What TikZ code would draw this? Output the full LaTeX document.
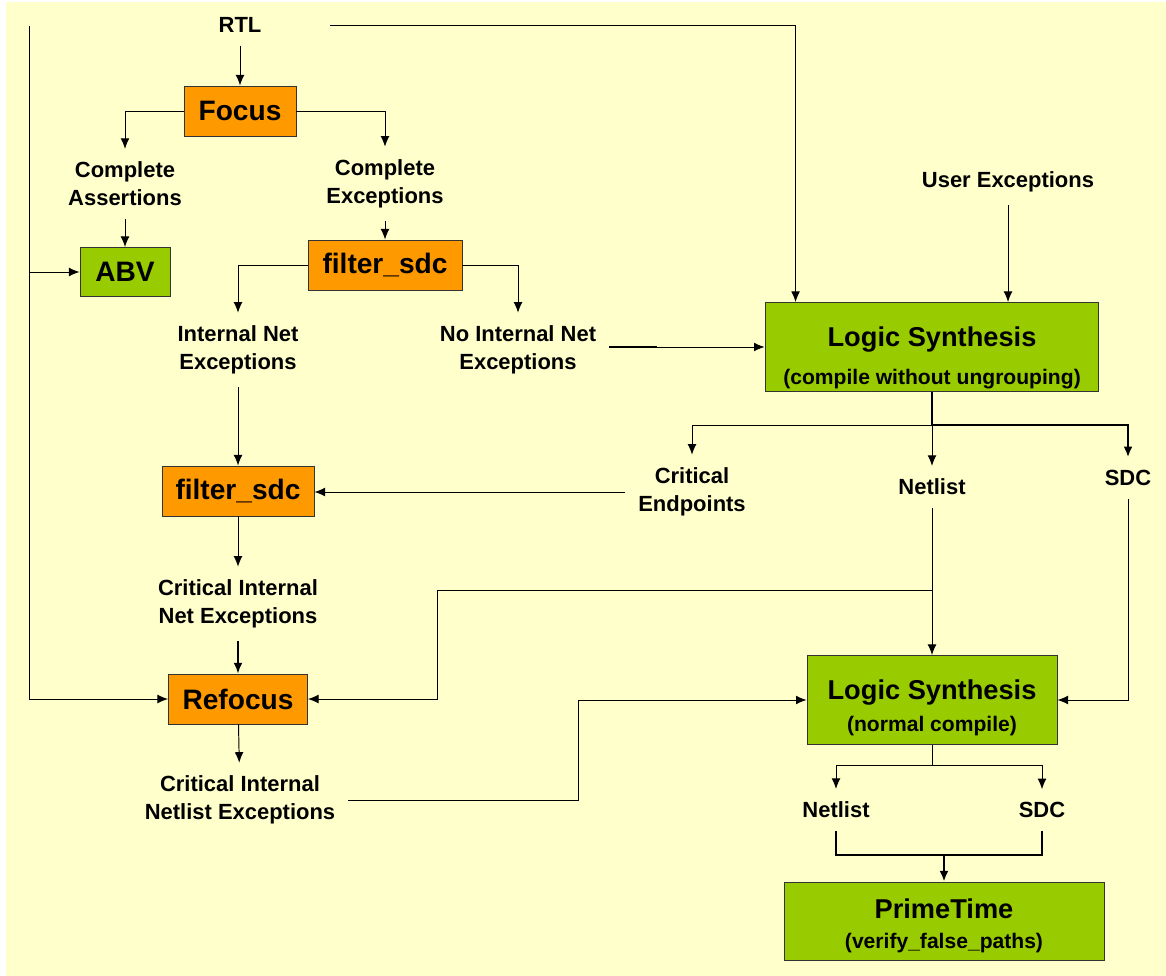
\documentclass[tikz,border=0pt]{standalone}
\usepackage{fontspec}
\setmainfont{Liberation Sans}
\usetikzlibrary{arrows.meta}
\definecolor{bgyellow}{HTML}{FFFFCC}
\definecolor{boxorange}{HTML}{FF9900}
\definecolor{boxgreen}{HTML}{99CC00}
\newcommand\subtxt[1]{{\fontsize{12}{14}\selectfont #1}}
\tikzset{
  lbl/.style={font=\fontsize{12.5}{16}\selectfont\bfseries, align=center, inner sep=0.25cm},
  obox/.style={draw=black!80, fill=boxorange, font=\fontsize{16}{18}\selectfont\bfseries,
    inner sep=0pt, minimum height=1cm},
  gbox/.style={draw=black!80, fill=boxgreen, font=\fontsize{15.5}{18}\selectfont\bfseries,
    align=center, inner sep=0pt},
  thk/.style={line width=1.2pt}
}

\begin{document}
\begin{tikzpicture}[x=0.02cm,y=-0.02cm,line width=0.55pt,>={Latex[length=6pt,width=5pt]}]
%\draw [help lines,step=1cm] (0,0) grid (1166,976);
\useasboundingbox (0,0) rectangle (1166,976);
\fill[white] (0,0) rectangle (1166,976);
\fill[bgyellow] (6,2) rectangle (1166,976);

% left column
\node[lbl] (rtl) at (240,25) {RTL};
\node[obox,minimum width=2.24cm] (focus) at (240,111) {Focus};
\node[lbl] (ca) at (125,184) {Complete\\Assertions};
\node[lbl] (ce) at (385,184) {Complete\\Exceptions};
\node[gbox,minimum width=1.8cm,minimum height=0.98cm,font=\fontsize{16}{18}\selectfont\bfseries] (abv) at (125,272) {ABV};
\node[obox,minimum width=3.08cm] (fs1) at (385,265) {filter\_sdc};
\node[lbl] (ine) at (238,350) {Internal Net\\Exceptions};
\node[lbl] (nine) at (518,350) {No Internal Net\\Exceptions};
\node[obox,minimum width=3.04cm] (fs2) at (238,491) {filter\_sdc};
\node[lbl] (cine) at (238,604) {Critical Internal\\Net Exceptions};
\node[obox,minimum width=2.78cm] (refocus) at (238,699) {Refocus};
\node[lbl] (cinle) at (240,800) {Critical Internal\\Netlist Exceptions};

% right column
\node[lbl] (ue) at (1008,182) {User Exceptions};
\node[gbox,minimum width=6.68cm,minimum height=1.78cm] (ls1) at (932,347)
  {\rule{0pt}{23.5pt}Logic Synthesis\\[3.5pt]\subtxt{(compile without ungrouping)}};
\node[lbl] (cep) at (692,492) {Critical\\Endpoints};
\node[lbl] (nl1) at (932,487) {Netlist};
\node[lbl] (sdc1) at (1128,478) {SDC};
\node[gbox,minimum width=5cm,minimum height=1.78cm] (ls2) at (932,700)
  {\rule{0pt}{20pt}Logic Synthesis\\[0pt]\subtxt{(normal compile)}};
\node[lbl] (nl2) at (836,810) {Netlist};
\node[lbl] (sdc2) at (1042,810) {SDC};
\node[gbox,minimum width=6.4cm,minimum height=1.56cm] (pt) at (944,921)
  {\rule{0pt}{17pt}PrimeTime\\[-1pt]\subtxt{(verify\_false\_paths)}};

\coordinate (tl) at (29,26);
\coordinate (rtlout) at (330,25);
\coordinate (split1) at (932,425);
\coordinate (nlsplit) at (932,590);
\coordinate (rfturn) at (437,590);
\coordinate (jog) at (578,800);
\coordinate (split2) at (932,765);
\coordinate (join) at (944,855);

\draw[->] (rtl) -- (focus);
\draw[->] (focus.west) -| (ca.north);
\draw[->] (focus.east) -| (ce.north);
\draw[->] (ca) -- (abv);
\draw[->] (tl) |- (abv.west);
\draw[->] (tl) |- (refocus.west);
\draw[->] (ce) -- (fs1);
\draw[->] (fs1.west) -| (ine.north);
\draw[->] (fs1.east) -| (nine.north);
\draw[->] (ine) -- (fs2);
\draw[->] (fs2) -- (cine);
\draw[->,line width=1pt] (cine) -- (refocus);
\draw[->] (refocus) -- (cinle);

\draw[->] (rtlout) -| ([xshift=0.62cm]ls1.north west);
\draw[->] (ue) -- (ue |- ls1.north);
\draw[->] (ls1.west -| nine.east) -- (ls1.west);
\draw[thk] (ls1.west -| nine.east) -- ++(48,0);
\draw[thk] (ls1.south) -- (split1) -- (split1 -| sdc1);
\draw[->] (split1) -| (cep.north);
\draw[->] (split1) -- (nl1.north);
\draw[->,thk] (split1) -| (sdc1.north);
\draw[->] (cep.west) -- (cep.west -| fs2.east);
\draw[->] (nl1) -- (ls2);
\draw[->] (nlsplit) -- (rfturn) |- (refocus.east);
\draw[->] (sdc1) |- (ls2.east);
\draw[->] (cinle.east) -- (jog) |- (ls2.west);
\draw (ls2) -- (split2);
\draw[->] (split2) -| (nl2.north);
\draw[->] (split2) -| (sdc2.north);
\draw[thk] (nl2) |- (join) -| (sdc2);
\draw[->,thk] (join) -- (pt);
\end{tikzpicture}
\end{document}
